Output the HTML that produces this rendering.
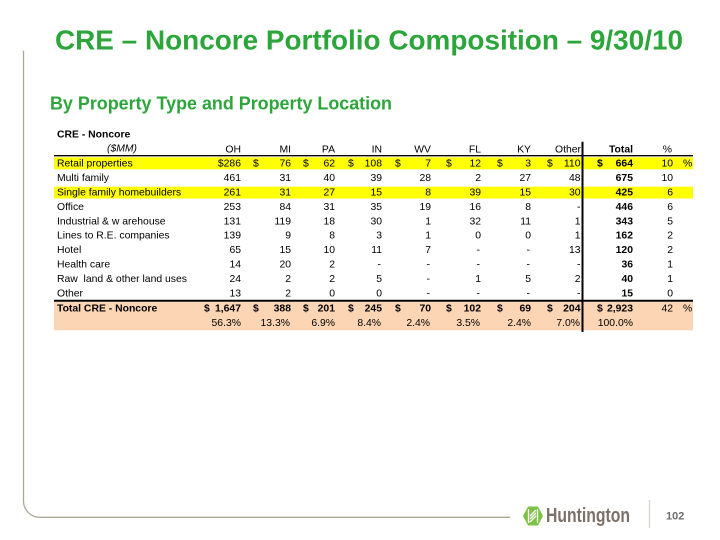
<!DOCTYPE html>
<html>
<head>
<meta charset="utf-8">
<style>
  html,body{margin:0;padding:0;background:#fff;}
  svg{display:block;}
  text{font-family:"Liberation Sans",Arial,sans-serif;}
  .t{font-size:10.4px;fill:#000;}
  .b{font-weight:bold;}
  .n{text-anchor:end;}
  .pre{white-space:pre;}
</style>
</head>
<body>
<svg width="720" height="540" viewBox="0 0 720 540" xmlns="http://www.w3.org/2000/svg">
  <rect width="720" height="540" fill="#fff"/>

  <!-- frame -->
  <path d="M23.5,50.7 V501 A16.3,16.3 0 0 0 39.8,517.3 H510" fill="none" stroke="#aca799" stroke-width="1.3"/>

  <!-- Titles -->
  <text x="55" y="49.3" font-size="28" font-weight="bold" fill="#2ca63a" textLength="628" lengthAdjust="spacingAndGlyphs">CRE – Noncore Portfolio Composition – 9/30/10</text>
  <text x="50" y="109.3" font-size="18" font-weight="bold" fill="#2ca63a" textLength="342" lengthAdjust="spacingAndGlyphs">By Property Type and Property Location</text>

  <!-- bands -->
  <rect x="54" y="157.3" width="639" height="12" fill="#ffff00"/>
  <rect x="54" y="186.7" width="639" height="11.8" fill="#ffff00"/>
  <rect x="54" y="302" width="639" height="28.3" fill="#fcd5b4"/>

  <!-- lines -->
  <line x1="54" y1="155.7" x2="693" y2="155.7" stroke="#000" stroke-width="1.4"/>
  <line x1="54" y1="300.7" x2="693" y2="300.7" stroke="#000" stroke-width="2"/>
  <line x1="582.5" y1="141.7" x2="582.5" y2="332" stroke="#000" stroke-width="2"/>

  <g class="t">
    <text x="57" y="137.3" class="b">CRE - Noncore</text>
    <text x="107" y="151.6" font-style="italic">($MM)</text>

    <!-- header -->
    <g class="n">
      <text x="241" y="152.5">OH</text>
      <text x="291" y="152.5">MI</text>
      <text x="335" y="152.5">PA</text>
      <text x="382" y="152.5">IN</text>
      <text x="431" y="152.5">WV</text>
      <text x="481" y="152.5">FL</text>
      <text x="531" y="152.5">KY</text>
      <text x="581" y="152.5">Other</text>
      <text x="633" y="152.5" class="b">Total</text>
      <text x="672" y="152.5">%</text>
    </g>

    <!-- labels -->
    <text x="57" y="166.7">Retail properties</text>
    <text x="57" y="181.1">Multi family</text>
    <text x="57" y="195.5">Single family homebuilders</text>
    <text x="57" y="209.9">Office</text>
    <text x="57" y="224.3" class="pre">Industrial &amp; w arehouse</text>
    <text x="57" y="238.7">Lines to R.E. companies</text>
    <text x="57" y="253.1">Hotel</text>
    <text x="57" y="267.5">Health care</text>
    <text x="57" y="281.9" class="pre">Raw  land &amp; other land uses</text>
    <text x="57" y="296.3">Other</text>
    <text x="57" y="311.7" class="b">Total CRE - Noncore</text>

    <!-- dollar signs retail row -->
    <text x="253" y="166.7">$</text>
    <text x="303" y="166.7">$</text>
    <text x="348" y="166.7">$</text>
    <text x="395" y="166.7">$</text>
    <text x="446" y="166.7">$</text>
    <text x="497" y="166.7">$</text>
    <text x="547" y="166.7">$</text>
    <text x="597" y="166.7" class="b">$</text>
    <text x="683" y="166.7">%</text>

    <g class="n">
      <!-- Retail -->
      <text x="241" y="166.7">$286</text>
      <text x="291" y="166.7">76</text>
      <text x="335" y="166.7">62</text>
      <text x="382" y="166.7">108</text>
      <text x="431" y="166.7">7</text>
      <text x="481" y="166.7">12</text>
      <text x="531" y="166.7">3</text>
      <text x="580.5" y="166.7">110</text>
      <text x="633" y="166.7" class="b">664</text>
      <text x="673" y="166.7">10</text>
      <!-- Multi -->
      <text x="241" y="181.1">461</text>
      <text x="291" y="181.1">31</text>
      <text x="335" y="181.1">40</text>
      <text x="382" y="181.1">39</text>
      <text x="431" y="181.1">28</text>
      <text x="481" y="181.1">2</text>
      <text x="531" y="181.1">27</text>
      <text x="580.5" y="181.1">48</text>
      <text x="633" y="181.1" class="b">675</text>
      <text x="673" y="181.1">10</text>
      <!-- Single -->
      <text x="241" y="195.5">261</text>
      <text x="291" y="195.5">31</text>
      <text x="335" y="195.5">27</text>
      <text x="382" y="195.5">15</text>
      <text x="431" y="195.5">8</text>
      <text x="481" y="195.5">39</text>
      <text x="531" y="195.5">15</text>
      <text x="580.5" y="195.5">30</text>
      <text x="633" y="195.5" class="b">425</text>
      <text x="673" y="195.5">6</text>
      <!-- Office -->
      <text x="241" y="209.9">253</text>
      <text x="291" y="209.9">84</text>
      <text x="335" y="209.9">31</text>
      <text x="382" y="209.9">35</text>
      <text x="431" y="209.9">19</text>
      <text x="481" y="209.9">16</text>
      <text x="531" y="209.9">8</text>
      <text x="580.5" y="209.9">-</text>
      <text x="633" y="209.9" class="b">446</text>
      <text x="673" y="209.9">6</text>
      <!-- Industrial -->
      <text x="241" y="224.3">131</text>
      <text x="291" y="224.3">119</text>
      <text x="335" y="224.3">18</text>
      <text x="382" y="224.3">30</text>
      <text x="431" y="224.3">1</text>
      <text x="481" y="224.3">32</text>
      <text x="531" y="224.3">11</text>
      <text x="580.5" y="224.3">1</text>
      <text x="633" y="224.3" class="b">343</text>
      <text x="673" y="224.3">5</text>
      <!-- Lines -->
      <text x="241" y="238.7">139</text>
      <text x="291" y="238.7">9</text>
      <text x="335" y="238.7">8</text>
      <text x="382" y="238.7">3</text>
      <text x="431" y="238.7">1</text>
      <text x="481" y="238.7">0</text>
      <text x="531" y="238.7">0</text>
      <text x="580.5" y="238.7">1</text>
      <text x="633" y="238.7" class="b">162</text>
      <text x="673" y="238.7">2</text>
      <!-- Hotel -->
      <text x="241" y="253.1">65</text>
      <text x="291" y="253.1">15</text>
      <text x="335" y="253.1">10</text>
      <text x="382" y="253.1">11</text>
      <text x="431" y="253.1">7</text>
      <text x="480" y="253.1">-</text>
      <text x="530" y="253.1">-</text>
      <text x="580.5" y="253.1">13</text>
      <text x="633" y="253.1" class="b">120</text>
      <text x="673" y="253.1">2</text>
      <!-- Health -->
      <text x="241" y="267.5">14</text>
      <text x="291" y="267.5">20</text>
      <text x="335" y="267.5">2</text>
      <text x="381" y="267.5">-</text>
      <text x="430" y="267.5">-</text>
      <text x="480" y="267.5">-</text>
      <text x="530" y="267.5">-</text>
      <text x="580.5" y="267.5">-</text>
      <text x="633" y="267.5" class="b">36</text>
      <text x="673" y="267.5">1</text>
      <!-- Raw land -->
      <text x="241" y="281.9">24</text>
      <text x="291" y="281.9">2</text>
      <text x="335" y="281.9">2</text>
      <text x="382" y="281.9">5</text>
      <text x="430" y="281.9">-</text>
      <text x="481" y="281.9">1</text>
      <text x="531" y="281.9">5</text>
      <text x="580.5" y="281.9">2</text>
      <text x="633" y="281.9" class="b">40</text>
      <text x="673" y="281.9">1</text>
      <!-- Other -->
      <text x="241" y="296.3">13</text>
      <text x="291" y="296.3">2</text>
      <text x="335" y="296.3">0</text>
      <text x="382" y="296.3">0</text>
      <text x="430" y="296.3">-</text>
      <text x="480" y="296.3">-</text>
      <text x="530" y="296.3">-</text>
      <text x="580.5" y="296.3">-</text>
      <text x="633" y="296.3" class="b">15</text>
      <text x="673" y="296.3">0</text>
    </g>

    <!-- Total row -->
    <g class="b">
      <text x="204" y="311.7">$</text>
      <text x="253" y="311.7">$</text>
      <text x="303" y="311.7">$</text>
      <text x="348" y="311.7">$</text>
      <text x="395" y="311.7">$</text>
      <text x="446" y="311.7">$</text>
      <text x="497" y="311.7">$</text>
      <text x="547" y="311.7">$</text>
      <text x="597" y="311.7">$</text>
      <g class="n">
        <text x="241" y="311.7">1,647</text>
        <text x="291" y="311.7">388</text>
        <text x="335" y="311.7">201</text>
        <text x="382" y="311.7">245</text>
        <text x="431" y="311.7">70</text>
        <text x="481" y="311.7">102</text>
        <text x="531" y="311.7">69</text>
        <text x="580.5" y="311.7">204</text>
        <text x="633" y="311.7">2,923</text>
      </g>
    </g>
    <text x="673" y="311.7" class="n">42</text>
    <text x="683" y="311.7">%</text>

    <!-- pct row -->
    <g class="n">
      <text x="241" y="326">56.3%</text>
      <text x="290" y="326">13.3%</text>
      <text x="335" y="326">6.9%</text>
      <text x="381" y="326">8.4%</text>
      <text x="430" y="326">2.4%</text>
      <text x="480" y="326">3.5%</text>
      <text x="531" y="326">2.4%</text>
      <text x="580" y="326">7.0%</text>
      <text x="633" y="326">100.0%</text>
    </g>
  </g>

  <!-- Logo -->
  <polygon points="523,516 528,506.5 538,506.5 543,516 538,525.5 528,525.5" fill="#7cc243"/>
  <g stroke="#fff" stroke-width="1.3" fill="none">
    <line x1="528.5" y1="509" x2="528.5" y2="523"/>
    <line x1="537.5" y1="509" x2="537.5" y2="523"/>
    <line x1="530" y1="519" x2="536" y2="513"/>
    <line x1="530" y1="522" x2="536" y2="516"/>
    <line x1="530" y1="516" x2="536" y2="510"/>
  </g>
  <text x="546" y="522" font-size="20" font-weight="bold" fill="#7b7168" textLength="84" lengthAdjust="spacingAndGlyphs">Huntington</text>

  <line x1="649.5" y1="500" x2="649.5" y2="528" stroke="#d6dccd" stroke-width="1.5"/>
  <text x="666" y="519.5" font-size="11" font-weight="bold" fill="#6e6e6e">102</text>
</svg>
</body>
</html>
